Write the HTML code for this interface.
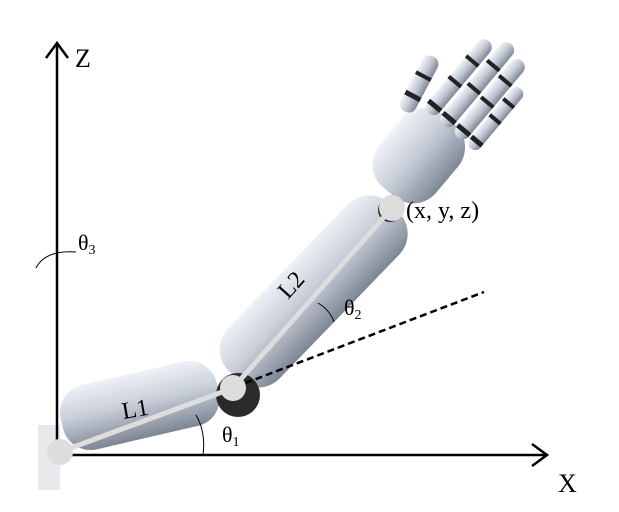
<!DOCTYPE html>
<html><head><meta charset="utf-8"><style>
html,body{margin:0;padding:0;background:#fff;width:619px;height:512px;overflow:hidden}
text{font-family:"Liberation Serif",serif;fill:#000}
</style></head><body>
<svg width="619" height="512" viewBox="0 0 619 512">
<defs>
<linearGradient id="g1" x1="0" y1="0" x2="0" y2="1">
<stop offset="0" stop-color="#eef1f6"/><stop offset="0.45" stop-color="#c9cfd9"/><stop offset="1" stop-color="#7d8594"/>
</linearGradient>
<linearGradient id="g2" x1="0" y1="0" x2="1" y2="0">
<stop offset="0" stop-color="#f0f3f7"/><stop offset="0.5" stop-color="#c3c9d4"/><stop offset="1" stop-color="#7f8796"/>
</linearGradient>
</defs>
<g><rect x="38" y="425" width="22" height="65" fill="#e6e8ec"/></g>
<g transform="translate(142,406) rotate(-13)">
<rect x="-82" y="-34" width="160" height="66" rx="28" fill="url(#g1)"/>
</g>
<g transform="translate(315,290) rotate(-46)">
<rect x="-118" y="-36" width="232" height="72" rx="30" fill="url(#g1)"/>
</g>
<g transform="translate(422,152) rotate(40)">
<rect x="-37" y="-42" width="74" height="94" rx="30" fill="url(#g2)"/>
<rect x="-50" y="-82" width="17" height="62" rx="8" fill="url(#g2)" transform="rotate(-12,-40,-30)"/>
<rect x="-28" y="-128" width="16" height="94" rx="8" fill="url(#g2)"/>
<rect x="-9" y="-140" width="16" height="106" rx="8" fill="url(#g2)"/>
<rect x="10" y="-134" width="16" height="100" rx="8" fill="url(#g2)"/>
<rect x="28" y="-112" width="14" height="78" rx="7" fill="url(#g2)"/>
<g fill="#222">
<rect x="-50" y="-40" width="17" height="5" transform="rotate(-12,-40,-30)"/><rect x="-50" y="-62" width="17" height="4" transform="rotate(-12,-40,-30)"/>
<rect x="-28" y="-46" width="16" height="5"/><rect x="-9" y="-46" width="16" height="5"/><rect x="10" y="-46" width="16" height="5"/><rect x="28" y="-46" width="14" height="5"/>
<rect x="-28" y="-77" width="16" height="4"/><rect x="-9" y="-84" width="16" height="4"/><rect x="10" y="-82" width="16" height="4"/><rect x="28" y="-74" width="14" height="4"/>
<rect x="-28" y="-104" width="16" height="4"/><rect x="-9" y="-114" width="16" height="4"/><rect x="10" y="-110" width="16" height="4"/><rect x="28" y="-95" width="14" height="4"/>
</g>
</g>
<circle cx="238" cy="395" r="22" fill="#2a2a2a"/>
<circle cx="390" cy="210" r="12" fill="#2a2a2a"/>
<g stroke="#000" stroke-width="2.5" fill="none">
<line x1="57" y1="456" x2="57" y2="44"/><polyline points="46,58 57,43 68,58"/>
<line x1="57" y1="455" x2="546" y2="455"/><polyline points="532,444 547,455 532,466"/>
</g>
<line x1="60" y1="452" x2="233" y2="388" stroke="#ddd" stroke-width="5"/>
<line x1="233" y1="388" x2="392" y2="208" stroke="#ddd" stroke-width="5"/>
<line x1="235" y1="387" x2="484" y2="292" stroke="#000" stroke-width="2.5" stroke-dasharray="7,4"/>
<circle cx="60" cy="452" r="13" fill="#ddd"/>
<circle cx="233" cy="388" r="13" fill="#ddd"/>
<circle cx="392" cy="208" r="13" fill="#ddd"/>
<g stroke="#000" stroke-width="1" fill="none">
<path d="M196,415 Q206,432 203,455"/>
<path d="M318,303 Q330,310 334,322"/>
<path d="M36,268 Q45,250 76,252"/>
</g>
<text x="75" y="67" font-size="26">Z</text>
<text x="558" y="492" font-size="26">X</text>
<text x="406" y="218" font-size="24">(x, y, z)</text>
<text x="122" y="417" font-size="24" transform="rotate(-10,135,410)">L1</text>
<text x="0" y="0" font-size="24" transform="translate(288,300) rotate(-48)">L2</text>
<text x="222" y="442" font-size="22">θ<tspan font-size="14" dy="4">1</tspan></text>
<text x="344" y="315" font-size="22">θ<tspan font-size="14" dy="4">2</tspan></text>
<text x="78" y="250" font-size="22">θ<tspan font-size="14" dy="4">3</tspan></text>
</svg>
</body></html>
